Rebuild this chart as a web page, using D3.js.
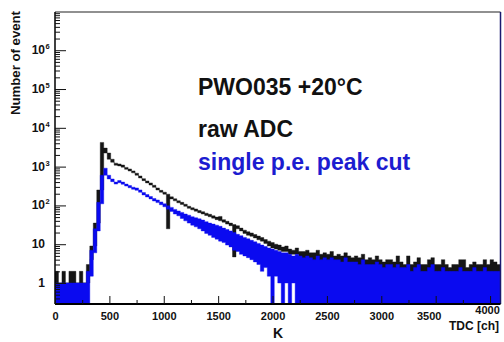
<!DOCTYPE html>
<html><head><meta charset="utf-8">
<script src="https://cdn.jsdelivr.net/npm/d3@7"></script>
<style>body{margin:0;background:#fff} svg{display:block} text{font-family:"Liberation Sans",Arial,Helvetica,sans-serif}</style>
</head><body><svg id="c" width="504" height="342"></svg>
<script>
// ---- data (32 channels per bin) ----
const binWidth = 32;
const rawHi = [2,1,2,1,2,2,1,2,1,3,
  9,35,250,4200,3000,2240,1550,1230,1170,1100,
  955,870,775,676,575,490,427,380,331,282,
  245,219,195,166,148,132,120,107,95,87,
  81,74,69,63,59,54,50,52,43,39,
  35,32,30,26,23,21,19.5,17.8,16.2,14.8,
  13.2,12,11,10,9.5,8.5,9,7.5,7,8,
  6.5,6.5,7,6,6,7,5.5,6,5.5,6.5,
  5,5.5,5,6,5,4.5,5,4.5,5.5,4,
  4.5,4,5,4,3.5,4,4,3.5,5,3.5,
  3,5,3,3.5,4.5,3,3,4,4.5,3,
  3,4,3,2.5,3,3,4,4,2.5,3,
  3.5,3,3,4,3,4,3.5,3];
const rawLo = [1,1,1,1,1,1,1,1,1,1,
  4,9,35,250,2240,1550,1300,1090,1040,970,
  850,770,690,600,510,435,380,335,293,250,
  218,195,25,147,131,117,106,95,84,77,
  71,65,60,55,51,47,43,40,37,33,
  30,4.7,25,22,19,17,16,14.5,13,12,
  10.5,9,8,7.5,7,6.5,6.5,5.5,5.5,5.5,
  1,1,1,1,1,1,1,1,1,1,
  1,1,1,1,1,1,1,1,1,1,
  1,1,1,1,1,1,1,1,1,1,
  1,1,1,1,1,1,1,1,1,1,
  1,1,1,1,1,1,1,1,1,1,
  1,1,1,1,1,1,1,1];
const cutHi = [1,1,1,1,1,1,1,1,1,2,
  7,25,120,600,912,600,480,400,437,400,
  355,324,295,282,251,214,190,170,151,138,
  123,110,98,89,79,72,66,60,56,51,
  48,45,42,38,35,33,31,29,26,24,
  22,20,18,16.6,15,13.8,12.6,11.5,10.5,9.5,
  8.7,8,7.5,7,6.5,6,6,5.5,5,5.5,
  5,4.5,5,4.5,4,5,4,4.5,4,4.5,
  4,4,3.5,4.5,3.5,3.5,3.5,3,4,3,
  3,3,3.5,3,2.5,3,3,2.5,3,2.5,
  2.5,3,2,2.5,3,2,2,2.5,3,2,
  2,2.5,2,2,2,2,2.5,2,2,2,
  2.5,2,2,2.5,2,2,2,2];
const cutLo = [0,0,0,0,0,0,0,0,0,0,
  1.5,6,22,110,600,480,410,355,385,350,
  315,285,260,245,218,186,165,147,130,118,
  104,92,80,70,60,54,46,40,35,31,
  28,25,22,19,17,15,13.5,12,11,9.5,
  8.5,7,6.5,5.5,5,4.5,4,3.5,3,2,
  2.5,1.5,0,1.5,1,0,1,0,1,0,
  0,0,0,0,0,0,0,0,0,0,
  0,0,0,0,0,0,0,0,0,0,
  0,0,0,0,0,0,0,0,0,0,
  0,0,0,0,0,0,0,0,0,0,
  0,0,0,0,0,0,0,0,0,0,
  0,0,0,0,0,0,0,0];
const xTickLabels = [0,500,1000,1500,2000,2500,3000,3500,4000];
const xMinorTicks = [250,750,1250,1750,2250,2750,3250,3750];
const yDecades = [0,1,2,3,4,5,6];

// ---- chart ----
const svg = d3.select("#c");
const L = 55, R = 500.5, T = 12, B = 304;
const x = d3.scaleLinear().domain([0, 4096]).range([L, R]);
const y = d3.scaleLog().domain([Math.pow(10, -0.541), Math.pow(10, 6.985)]).range([B, T]);

svg.append("defs").append("clipPath").attr("id", "clip")
  .append("rect").attr("x", L).attr("y", T).attr("width", R - L).attr("height", B - T);

function band(hi, lo) {
  const pts = hi.map((h, i) => ({c: i * binWidth, h, l: lo[i]}));
  pts.push({c: hi.length * binWidth, h: hi[hi.length - 1], l: lo[lo.length - 1]});
  return pts;
}
const yb = v => v > 0 ? y(v) : B + 2;
const area = d3.area().x(d => x(d.c)).y0(d => yb(d.l)).y1(d => yb(d.h)).curve(d3.curveStepAfter);

const g = svg.append("g").attr("clip-path", "url(#clip)");
g.append("path").datum(band(rawHi, rawLo)).attr("d", area)
  .attr("fill", "#151515").attr("stroke", "#151515").attr("stroke-width", 0.4);
g.append("path").datum(band(cutHi, cutLo)).attr("d", area)
  .attr("fill", "#0a0af0").attr("stroke", "#0a0af0").attr("stroke-width", 0.4);

// frame
svg.append("line").attr("x1", L).attr("x2", R).attr("y1", T).attr("y2", T).attr("stroke", "#222").attr("stroke-width", 1.2);
svg.append("line").attr("x1", R).attr("x2", R).attr("y1", T).attr("y2", B).attr("stroke", "#1a1a70").attr("stroke-width", 1.5);
svg.append("line").attr("x1", L).attr("x2", L).attr("y1", T).attr("y2", B).attr("stroke", "#000").attr("stroke-width", 1.5);
svg.append("line").attr("x1", L).attr("x2", R).attr("y1", B).attr("y2", B).attr("stroke", "#000").attr("stroke-width", 2);

// x axis
const xAx = svg.append("g").attr("transform", `translate(0,${B})`)
  .call(d3.axisBottom(x).tickValues(xTickLabels).tickSize(-8).tickPadding(8).tickFormat(d3.format("d")));
xAx.select(".domain").remove();
xAx.selectAll("text").attr("font-size", 11).attr("font-weight", "bold").attr("fill", "#111")
  .attr("font-family", '"Liberation Sans",Arial,sans-serif');
xAx.selectAll(".tick").filter(d => d === 3500).select("text").attr("dx", -7);
xAx.selectAll(".tick").filter(d => d === 4000).select("text").attr("dx", -3).attr("dy", "0.2em");
const xMin = svg.append("g").attr("transform", `translate(0,${B})`)
  .call(d3.axisBottom(x).tickValues(xMinorTicks).tickSize(-4).tickFormat(""));
xMin.select(".domain").remove();

// y axis
const yMajor = yDecades.map(k => Math.pow(10, k));
const yMinor = [];
for (let k = -1; k <= 6; k++) for (let m = 2; m <= 9; m++) {
  const v = m * Math.pow(10, k);
  if (v > y.domain()[0] && v < y.domain()[1]) yMinor.push(v);
}
const yAx = svg.append("g").attr("transform", `translate(${L},0)`)
  .call(d3.axisLeft(y).tickValues(yMajor).tickSize(-11).tickFormat(""));
yAx.select(".domain").remove();
const yMi = svg.append("g").attr("transform", `translate(${L},0)`)
  .call(d3.axisLeft(y).tickValues(yMinor).tickSize(-5).tickFormat(""));
yMi.select(".domain").remove();
svg.selectAll(".tick line").attr("stroke", "#111");

const yl = svg.append("g").attr("font-weight", "bold").attr("fill", "#111");
yDecades.forEach(k => {
  const yy = y(Math.pow(10, k));
  const base = k === 0 ? "1" : "10";
  yl.append("text").attr("x", 45).attr("y", yy + 4).attr("text-anchor", "end")
    .attr("font-size", 12).text(base);
  if (k >= 2) yl.append("text").attr("x", 45.5).attr("y", yy - 1).attr("font-size", 7.5).text(k);
});

// axis titles
svg.append("text").attr("transform", "translate(20,115) rotate(-90)")
  .attr("font-size", 12).attr("font-weight", "bold").attr("fill", "#111")
  .attr("textLength", 104).attr("lengthAdjust", "spacingAndGlyphs").text("Number of event");
svg.append("text").attr("x", 278).attr("y", 338).attr("text-anchor", "middle")
  .attr("font-size", 14).attr("font-weight", "bold").attr("fill", "#111").text("K");
svg.append("text").attr("x", 499).attr("y", 330).attr("text-anchor", "end")
  .attr("font-size", 12).attr("font-weight", "bold").attr("fill", "#111").text("TDC [ch]");

// legend texts
svg.append("text").attr("x", 198).attr("y", 95).attr("font-size", 23).attr("font-weight", "bold")
  .attr("fill", "#111").text("PWO035 +20°C");
svg.append("text").attr("x", 198).attr("y", 137).attr("font-size", 23).attr("font-weight", "bold")
  .attr("fill", "#111").text("raw ADC");
svg.append("text").attr("x", 198).attr("y", 170).attr("font-size", 23).attr("font-weight", "bold")
  .attr("fill", "#1c1cd0").text("single p.e. peak cut");
</script></body></html>
